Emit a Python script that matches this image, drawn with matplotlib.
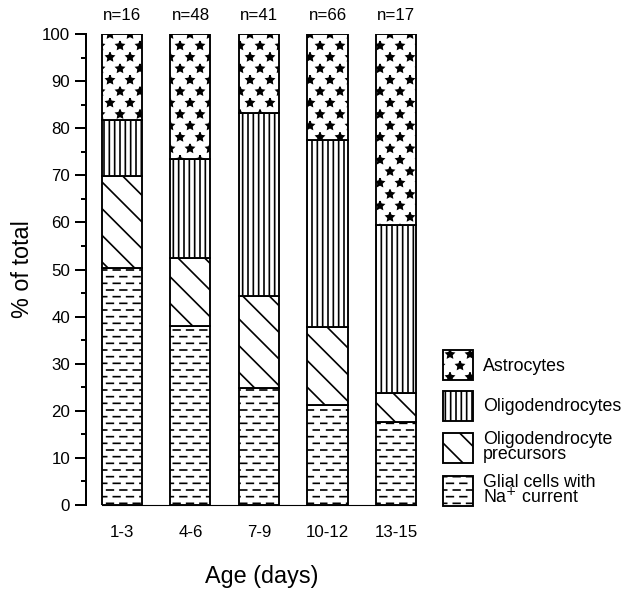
import warnings
import numpy as np
import matplotlib
matplotlib.use('Agg')
import matplotlib.pyplot as plt
import matplotlib.hatch as mhatch
from matplotlib.path import Path
from matplotlib.ticker import MultipleLocator

warnings.filterwarnings('ignore', message='.*hatch must consist')

# Data (percent of total cells per age group, stacked bottom -> top)
ages = ['1-3', '4-6', '7-9', '10-12', '13-15']
counts = [16, 48, 41, 66, 17]
glial = [50.3, 37.9, 24.9, 21.3, 17.7]
precursors = [19.5, 14.5, 19.4, 16.4, 6.1]
oligo = [12.0, 21.0, 39.0, 39.8, 35.6]
astro = [18.2, 26.6, 16.7, 22.5, 40.6]
names = ['Glial cells with\nNa$^{+}$ current', 'Oligodendrocyte\nprecursors',
         'Oligodendrocytes', 'Astrocytes']


class DashHatch(mhatch.HatchPatternBase):
    # short staggered dashes, used for the letter 'd' in a hatch string
    def __init__(self, hatch, density):
        n = hatch.count('d')
        self.rows = 4 * n * density
        self.cols = 2 * n * density
        self.num_vertices = self.rows * self.cols * 2

    def set_vertices_and_codes(self, vertices, codes):
        pitch = 1.0 / self.cols
        k = 0
        for r in range(self.rows):
            y = (r + 0.5) / self.rows
            shift = pitch / 2 if r % 2 else 0.0
            for c in range(self.cols):
                x0 = c * pitch + shift
                vertices[k] = (x0, y)
                vertices[k + 1] = (x0 + pitch / 2, y)
                codes[k] = Path.MOVETO
                codes[k + 1] = Path.LINETO
                k += 2


class StarHatch(mhatch.HatchPatternBase):
    # sparse staggered filled stars, used for the letter 's'
    def __init__(self, hatch, density):
        n = hatch.count('s')
        self.rows = int(n * density * 7 / 3)
        self.cols = int(n * density * 4 / 3)
        self.star = Path.unit_regular_star(5).vertices * 0.024
        nstars = 0
        for r in range(self.rows + 1):
            nstars += self.cols + 1 if r % 2 == 0 else self.cols
        self.num_vertices = nstars * len(self.star) if n else 0

    def set_vertices_and_codes(self, vertices, codes):
        m = len(self.star)
        k = 0
        for r in range(self.rows + 1):
            y = r / self.rows
            if r % 2 == 0:
                xs = np.linspace(0, 1, self.cols + 1)
            else:
                xs = np.linspace(0.5 / self.cols, 1 - 0.5 / self.cols, self.cols)
            for xc in xs:
                vertices[k:k + m] = self.star + (xc, y)
                codes[k:k + m] = Path.LINETO
                codes[k] = Path.MOVETO
                k += m


mhatch._hatch_types.extend([DashHatch, StarHatch])

plt.rcParams['font.family'] = ['Liberation Sans', 'DejaVu Sans']
plt.rcParams['hatch.linewidth'] = 0.75
plt.rcParams['hatch.color'] = 'black'

DPI = 160
fig = plt.figure(figsize=(636 / DPI, 592 / DPI), dpi=DPI)
ax = fig.add_axes([86 / 636, 87 / 592, 337.4 / 636, 471 / 592])

x = np.arange(len(ages))
width = 0.584
hatches = ['d', '\\\\', '|||||', 's']
bottom = np.zeros(len(ages))
for vals, hatch, name in zip([glial, precursors, oligo, astro], hatches, names):
    ax.bar(x, vals, width, bottom=bottom, color='white', edgecolor='black',
           linewidth=0.85, hatch=hatch, label=name)
    bottom += np.array(vals)

for xi, n in zip(x, counts):
    ax.text(xi, 104, f'n={n}', ha='center', va='center', fontsize=7.6,
            clip_on=False)

ax.set_xlim(-0.5255, 4.4)
ax.set_ylim(0, 100)
ax.spines['top'].set_visible(False)
ax.spines['right'].set_visible(False)
ax.spines['left'].set_linewidth(0.9)
ax.spines['bottom'].set_linewidth(0.5)
ax.spines['bottom'].set_bounds(-width / 2, x[-1] + width / 2)

ax.yaxis.set_major_locator(MultipleLocator(10))
ax.yaxis.set_minor_locator(MultipleLocator(5))
ax.tick_params(axis='y', which='major', length=4.95, width=0.9, pad=2.2,
               labelsize=7.6)
ax.tick_params(axis='y', which='minor', length=2.3, width=0.9)
ax.set_xticks(x, ages)
ax.tick_params(axis='x', length=0, pad=9, labelsize=7.6)

ax.set_xlabel('Age (days)', fontsize=10.5)
ax.xaxis.set_label_coords(0.522, -0.127)
ax.set_ylabel('% of total', fontsize=10.5)
ax.yaxis.set_label_coords(-0.154, 0.5)

handles, labels = ax.get_legend_handles_labels()
leg = ax.legend(handles[::-1], labels[::-1], loc='upper left',
                bbox_to_anchor=(443 / 636, 1 - 350 / 592),
                bbox_transform=fig.transFigure, frameon=False, fontsize=8,
                handlelength=1.69, handleheight=2.215, handletextpad=0.55,
                labelspacing=0.6, borderpad=0, borderaxespad=0)
for t in leg.get_texts():
    t.set_linespacing(0.8)

fig.savefig('out.png', dpi=DPI)
